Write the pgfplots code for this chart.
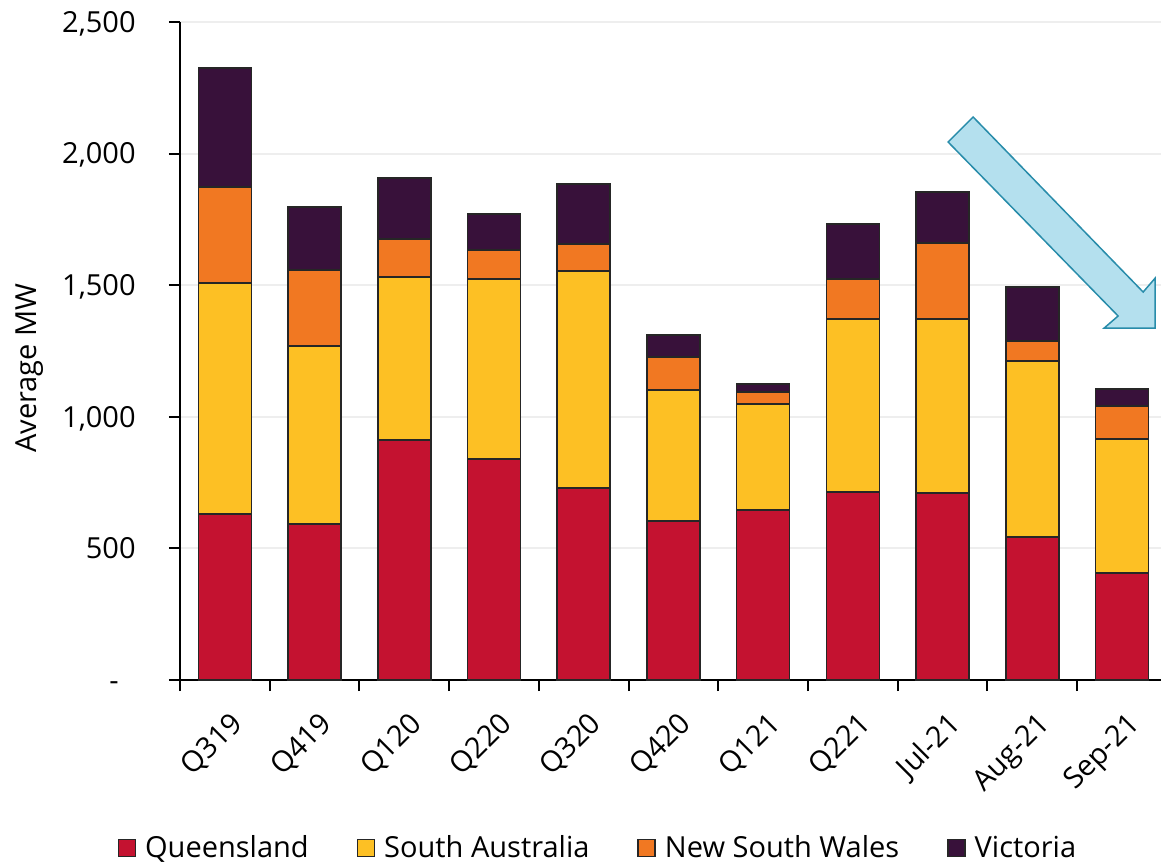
\documentclass[border=0pt]{standalone}
\usepackage{fontspec}
\setmainfont{Open Sans}
\usepackage{pgfplots}
\pgfplotsset{compat=1.18}
\usetikzlibrary{calc}

\definecolor{qld}{RGB}{196,18,48}
\definecolor{sa}{RGB}{253,192,36}
\definecolor{nsw}{RGB}{241,120,34}
\definecolor{vic}{RGB}{56,17,58}
\definecolor{edge}{RGB}{38,38,38}
\definecolor{gridc}{RGB}{238,238,238}
\definecolor{arrowfill}{RGB}{180,224,238}
\definecolor{arrowedge}{RGB}{40,140,170}

\newcommand{\chartfont}{\fontsize{14.5}{17}\selectfont}

\begin{document}
\begin{tikzpicture}
\begin{axis}[
  name=ax,
  scale only axis, width=490.5pt, height=329pt,
  ybar stacked, bar width=26.5pt,
  xmin=-0.5, xmax=10.435, ymin=0, ymax=2500,
  axis x line*=bottom, axis y line*=left,
  axis line style={-, line width=1pt, black},
  xtick={0,...,10},
  xticklabels={Q319,Q419,Q120,Q220,Q320,Q420,Q121,Q221,Jul-21,Aug-21,Sep-21},
  minor xtick={-0.5,0.5,1.5,2.5,3.5,4.5,5.5,6.5,7.5,8.5,9.5},
  major x tick style={draw=none},
  minor x tick style={black, line width=1pt},
  ytick={0,500,1000,1500,2000,2500},
  yticklabels={{-\rule{8.5pt}{0pt}},{500},{1,000},{1,500},{2,000},{2,500}},
  y tick style={black, line width=1pt},
  tick align=outside,
  major tick length=5.5pt, minor tick length=5.5pt,
  ymajorgrids, grid style={gridc, line width=1pt},
  x tick label style={font=\chartfont, xshift=2pt, yshift=-9.5pt, rotate=45, anchor=north east, inner sep=0pt},
  y tick label style={font=\chartfont, inner sep=0pt, anchor=base east, xshift=-16.5pt, yshift=-5.2pt},
  ylabel={Average MW},
  ylabel style={font=\chartfont, at={(axis description cs:-0.1529,0.474)}, anchor=center},
  legend columns=4,
  legend style={draw=none, fill=none, font=\chartfont,
    at={(axis description cs:0.4250,-0.2553)}, anchor=center,
    inner sep=0pt, nodes={inner sep=0pt},
    /tikz/every odd column/.append style={column sep=4.5pt},
    /tikz/every even column/.append style={column sep=24pt}},
  legend image code/.code={\draw[#1, draw=edge, line width=0.75pt] (0pt,-4.25pt) rectangle (8.5pt,4.25pt);},
  every axis plot/.append style={draw=edge, line width=0.75pt},
  clip=false,
]
% Queensland
\addplot[fill=qld] coordinates {(0,631) (1,593) (2,912) (3,840) (4,730) (5,604) (6,646) (7,714) (8,711) (9,543) (10,407)};
% South Australia
\addplot[fill=sa] coordinates {(0,878) (1,676) (2,619) (3,684) (4,824) (5,498) (6,403) (7,658) (8,661) (9,669) (10,509)};
% New South Wales
\addplot[fill=nsw] coordinates {(0,364) (1,289) (2,145) (3,110) (4,103) (5,125) (6,45) (7,152) (8,289) (9,76) (10,125)};
% Victoria
\addplot[fill=vic] coordinates {(0,453) (1,239) (2,232) (3,137) (4,228) (5,84) (6,31) (7,209) (8,193) (9,205) (10,65)};
\legend{Queensland,South Australia,New South Wales,Victoria}

% downward trend arrow
\draw[arrowedge, fill=arrowfill, line width=0.75pt, line join=miter]
  (axis cs:8.062,2044) -- (axis cs:8.341,2139) -- (axis cs:10.236,1474)
  -- (axis cs:10.370,1527) -- (axis cs:10.370,1337) -- (axis cs:9.801,1337)
  -- (axis cs:9.957,1383) -- cycle;
\end{axis}
\pgfresetboundingbox
\useasboundingbox ($(ax.south west)+(-90pt,-93pt)$) rectangle ($(ax.north east)+(0pt,11pt)$);
\end{tikzpicture}
\end{document}
